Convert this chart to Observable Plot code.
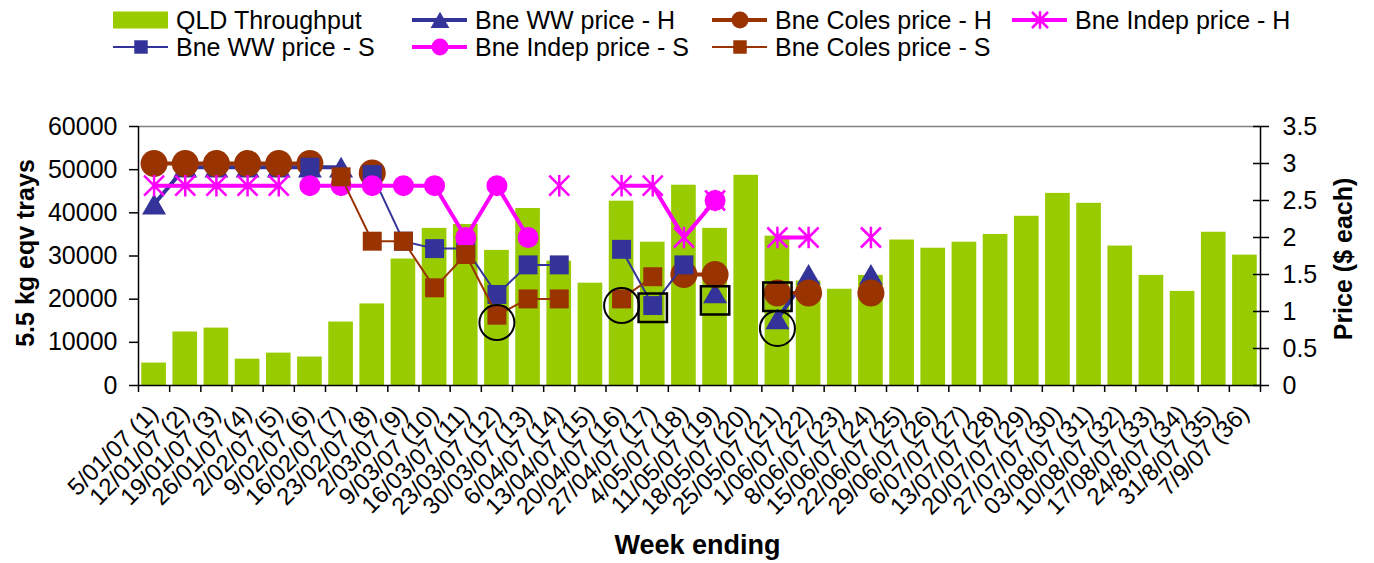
<!DOCTYPE html>
<html><head><meta charset="utf-8">
<script src="https://cdn.jsdelivr.net/npm/d3@7"></script>
<script src="https://cdn.jsdelivr.net/npm/@observablehq/plot@0.6"></script>
<style>
body{margin:0;background:#fff;font-family:"Liberation Sans",Arial,sans-serif;overflow:hidden;}
#legend{position:relative;width:1374px;height:62px;}
.item{position:absolute;display:flex;align-items:center;height:28px;font-size:25px;color:#000;white-space:nowrap;}
.item svg{margin-right:8px;flex:none;}
#chart svg{display:block;}
</style></head><body>
<div id="legend"></div>
<div id="chart"></div>
<script>
// ---------- data ----------
const weekLabels = ["5/01/07 (1)","12/01/07 (2)","19/01/07 (3)","26/01/07 (4)","2/02/07 (5)","9/02/07 (6)","16/02/07 (7)","23/02/07 (8)","2/03/07 (9)","9/03/07 (10)","16/03/07 (11)","23/03/07 (12)","30/03/07 (13)","6/04/07 (14)","13/04/07 (15)","20/04/07 (16)","27/04/07 (17)","4/05/07 (18)","11/05/07 (19)","18/05/07 (20)","25/05/07 (21)","1/06/07 (22)","8/06/07 (23)","15/06/07 (24)","22/06/07 (25)","29/06/07 (26)","6/07/07 (27)","13/07/07 (28)","20/07/07 (29)","27/07/07 (30)","03/08/07 (31)","10/08/07 (32)","17/08/07 (33)","24/8/07 (34)","31/8/07 (35)","7/9/07 (36)"];

const qldThroughput = [5200,12400,13300,6100,7500,6600,14700,18900,29300,36400,37300,31300,41000,28800,23700,42700,33200,46400,36400,48700,34600,24200,22300,25500,33700,31800,33200,35000,39200,44500,42200,32300,25500,21800,35500,30200];

const _ = null;
//                 1    2    3    4    5    6    7    8    9   10   11   12   13   14   15   16   17   18   19   20   21   22   23   24   25 26 27 28 29 30 31 32 33 34 35 36
const wwPriceH    = [2.45,2.95,2.95,2.95,2.95,2.95,2.95,_,   _,   _,   _,   _,   _,   _,   _,   _,   _,   _,   1.25,_,   0.9, 1.5, _,   1.5, _,_,_,_,_,_,_,_,_,_,_,_];
const colesPriceH = [3,   3,   3,   3,   3,   3,   _,   2.87,_,   _,   _,   _,   _,   _,   _,   _,   _,   1.5, 1.5, _,   1.25,1.25,_,   1.25,_,_,_,_,_,_,_,_,_,_,_,_];
const indepPriceH = [2.7, 2.7, 2.7, 2.7, 2.7, _,   _,   _,   _,   _,   _,   _,   _,   2.7, _,   2.7, 2.7, 2.0, 2.5, _,   2.0, 2.0, _,   2.0, _,_,_,_,_,_,_,_,_,_,_,_];
const wwPriceS    = [_,   _,   _,   _,   _,   2.95,_,   2.85,1.95,1.85,1.85,1.23,1.63,1.63,_,   1.84,1.08,1.63,_,   _,   _,   _,   _,   _,   _,_,_,_,_,_,_,_,_,_,_,_];
const indepPriceS = [_,   _,   _,   _,   _,   2.7, 2.7, 2.7, 2.7, 2.7, 2.0, 2.7, 2.0, _,   _,   _,   _,   _,   2.5, _,   _,   _,   _,   _,   _,_,_,_,_,_,_,_,_,_,_,_];
const colesPriceS = [_,   _,   _,   _,   _,   _,   2.82,1.95,1.95,1.32,1.77,0.95,1.17,1.17,_,   1.17,1.47,_,   _,   _,   _,   _,   _,   _,   _,_,_,_,_,_,_,_,_,_,_,_];

const priceTicks = [0,0.5,1,1.5,2,2.5,3,3.5];
const trayTicks = [0,10000,20000,30000,40000,50000,60000];

// highlighted points (week, price)
const circledWeeks = [12,16,21];
const circledPrices = [0.85,1.08,0.77];
const boxedWeeks = [17,19,21];
const boxedPrices = [1.05,1.15,1.2];

// ---------- styles ----------
const GREEN = "#99CC00", BLUE = "#333399", BROWN = "#993300", PINK = "#FF00FF";
const starSymbol = {draw(ctx, size){const s = Math.sqrt(size/Math.PI);
  ctx.moveTo(0,-1.08*s); ctx.lineTo(0,1.08*s);
  ctx.moveTo(-s,-s); ctx.lineTo(s,s);
  ctx.moveTo(-s,s); ctx.lineTo(s,-s);}};

const series = [
  {name:"Bne WW price - H", values:wwPriceH, color:BLUE, lw:4, symbol:"triangle", r:8.9, dy:3.4},
  {name:"Bne Coles price - H", values:colesPriceH, color:BROWN, lw:4, symbol:"circle", r:13.5},
  {name:"Bne Indep price - H", values:indepPriceH, color:PINK, lw:4, symbol:starSymbol, r:10, stroke:true},
  {name:"Bne WW price - S", values:wwPriceS, color:BLUE, lw:2, symbol:"square", r:10.7},
  {name:"Bne Indep price - S", values:indepPriceS, color:PINK, lw:4, symbol:"circle", r:10.5},
  {name:"Bne Coles price - S", values:colesPriceS, color:BROWN, lw:2, symbol:"square", r:10.7}
];

const K = 60000/3.5;
const rows = weekLabels.map((label,i)=>({i:i+1,label,t:qldThroughput[i]}));
const toPts = arr => arr.map((v,i)=>({i:i+1, v: v==null ? null : v*K}));

// ---------- legend ----------
const legend = document.getElementById("legend");
const legendLayout = [
  {name:"QLD Throughput", left:113, cy:20},
  {name:"Bne WW price - H", left:412, cy:20},
  {name:"Bne Coles price - H", left:712, cy:20},
  {name:"Bne Indep price - H", left:1012, cy:20},
  {name:"Bne WW price - S", left:113, cy:47},
  {name:"Bne Indep price - S", left:412, cy:47},
  {name:"Bne Coles price - S", left:712, cy:47}
];
const legendR = {"triangle":7, "circle":8.5, "square":7.6};
for (const item of legendLayout) {
  const div = document.createElement("div");
  div.className = "item";
  div.style.left = item.left + "px";
  div.style.top = (item.cy - 14) + "px";
  let svg;
  if (item.name === "QLD Throughput") {
    svg = `<svg width="55" height="28"><rect x="0" y="5.5" width="55" height="17" fill="${GREEN}"/></svg>`;
  } else {
    const s = series.find(d=>d.name===item.name);
    let marker;
    if (s.stroke) {
      const p = d3.path(); starSymbol.draw(p, Math.PI*8*8);
      marker = `<path d="${p}" transform="translate(28,14)" stroke="${s.color}" stroke-width="2.5" fill="none"/>`;
    } else if (s.symbol === "circle") {
      marker = `<circle cx="28" cy="14" r="${legendR.circle}" fill="${s.color}"/>`;
    } else {
      const sym = s.symbol === "triangle" ? d3.symbolTriangle : d3.symbolSquare;
      const rr = legendR[s.symbol];
      const path = d3.symbol(sym, Math.PI*rr*rr)();
      marker = `<path d="${path}" transform="translate(28,${14 + (s.symbol==="triangle"?2.6:0)})" fill="${s.color}"/>`;
    }
    svg = `<svg width="55" height="28"><line x1="0" x2="55" y1="14" y2="14" stroke="${s.color}" stroke-width="${s.lw===4?4:2}"/>${marker}</svg>`;
  }
  div.innerHTML = svg + `<span>${item.name}</span>`;
  legend.appendChild(div);
}

// ---------- chart ----------
const seriesMarks = [];
for (const s of series) {
  const pts = toPts(s.values);
  seriesMarks.push(Plot.line(pts, {x:"i", y:"v", stroke:s.color, strokeWidth:s.lw}));
  const def = pts.filter(d=>d.v!=null);
  if (s.stroke) {
    seriesMarks.push(Plot.dot(def, {x:"i", y:"v", r:s.r, symbol:s.symbol, fill:"none", stroke:s.color, strokeWidth:2.5}));
  } else {
    seriesMarks.push(Plot.dot(def, {x:"i", y:"v", r:s.r, symbol:s.symbol, fill:s.color, stroke:"none", dy:s.dy||0}));
  }
}

const circled = circledWeeks.map((w,k)=>({i:w, v:circledPrices[k]*K}));
const boxed = boxedWeeks.map((w,k)=>({i:w, v:boxedPrices[k]*K}));
const boundaries = d3.range(0, weekLabels.length+1).map(k=>k+0.5);

const chart = Plot.plot({
  width: 1374, height: 501,
  marginTop: 64, marginBottom: 178, marginLeft: 138, marginRight: 114,
  style: {fontFamily: '"Liberation Sans", Arial, sans-serif', fontSize: "25px", background: "#fff", color: "#000", overflow: "visible"},
  x: {domain: [0.5, weekLabels.length + 0.5], axis: null},
  y: {domain: [0, 60000], axis: null},
  marks: [
    Plot.rectY(rows, {x1: d=>d.i-0.5, x2: d=>d.i+0.5, y: "t", insetLeft: 3.25, insetRight: 3.25, fill: GREEN}),
    Plot.ruleY([60000], {stroke: "#808080", strokeWidth: 1.5}),
    Plot.ruleX([0.5], {stroke: "#000", strokeWidth: 1.5}),
    Plot.ruleX([weekLabels.length + 0.5], {stroke: "#000", strokeWidth: 1.5}),
    Plot.ruleY([0], {stroke: "#000", strokeWidth: 1.5}),
    Plot.axisY({anchor: "left", ticks: trayTicks, tickSize: 9, tickPadding: 12, tickFormat: d=>String(d), fontSize: 25, label: null, strokeWidth: 1.5}),
    Plot.axisY({anchor: "right", ticks: priceTicks.map(p=>p*K), tickSize: 8, tickPadding: 14, tickFormat: d=>String(Math.round(d/K*10)/10), fontSize: 25, label: null, strokeWidth: 1.5}),
    Plot.axisY({anchor: "right", ticks: priceTicks.map(p=>p*K), tickSize: 8, dx: -8, tickFormat: ()=>"", label: null, strokeWidth: 1.5}),
    Plot.axisX({ticks: boundaries, tickSize: 7, tickFormat: ()=>"", label: null, strokeWidth: 1.5}),
    Plot.axisX({ticks: d3.range(1, weekLabels.length+1), tickSize: 0, tickPadding: 24, tickRotate: -45, tickFormat: i=>weekLabels[i-1], fontSize: 24, label: null}),
    ...seriesMarks,
    Plot.dot(circled, {x:"i", y:"v", r:17.5, fill:"none", stroke:"#000", strokeWidth:2}),
    Plot.dot(boxed, {x:"i", y:"v", r:16, symbol:"square", fill:"none", stroke:"#000", strokeWidth:2.5}),
    Plot.text(["5.5 kg eqv trays"], {text: d=>d, frameAnchor: "left", textAnchor: "middle", dx: -113, dy: -3, rotate: -90, fontWeight: "bold", fontSize: 25}),
    Plot.text(["Price ($ each)"], {text: d=>d, frameAnchor: "right", textAnchor: "middle", dx: 83, dy: 3, rotate: -90, fontWeight: "bold", fontSize: 25}),
    Plot.text(["Week ending"], {text: d=>d, frameAnchor: "bottom", dx: -2, dy: 168, fontWeight: "bold", fontSize: 27})
  ]
});
document.getElementById("chart").appendChild(chart);
</script>
</body></html>
